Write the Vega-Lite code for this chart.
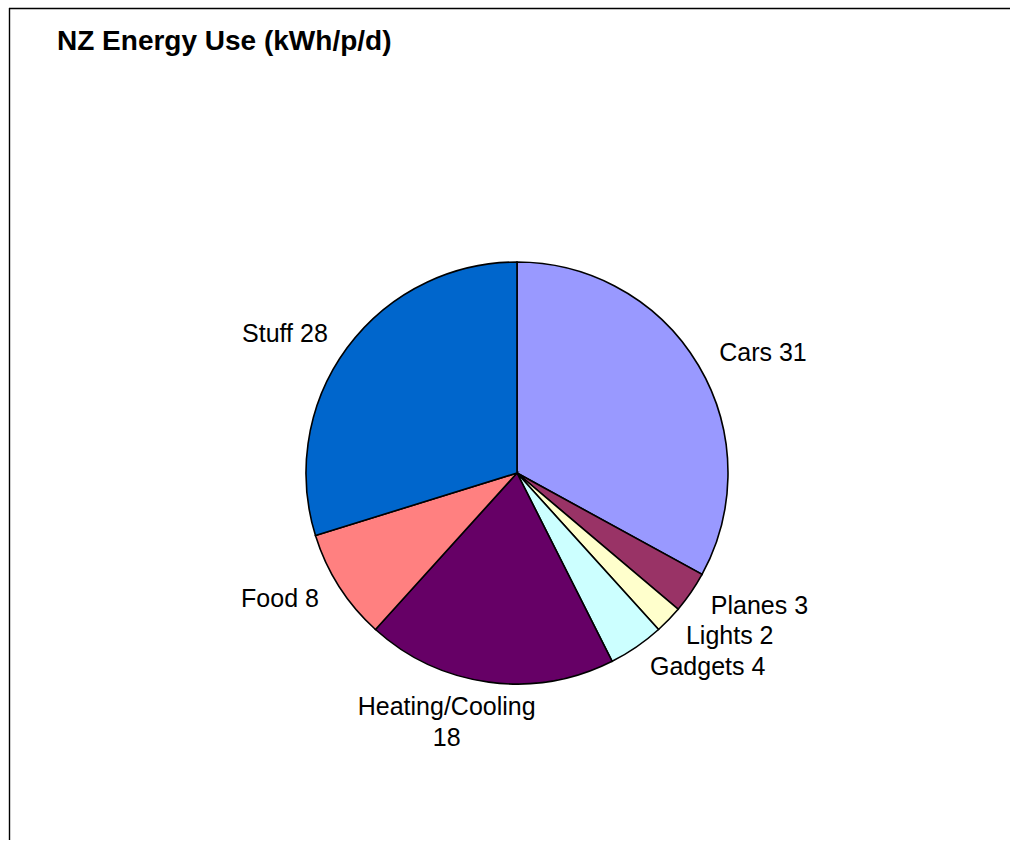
{
  "$schema": "https://vega.github.io/schema/vega-lite/v6.json",
  "width": 1016,
  "height": 930,
  "autosize": {"type": "none"},
  "padding": {"left": 9, "top": 8, "right": -13, "bottom": -96},
  "background": "white",
  "view": {"stroke": null},
  "title": {
    "text": "NZ Energy Use (kWh/p/d)",
    "anchor": "start",
    "frame": "group",
    "orient": "top",
    "offset": -71,
    "dx": 48,
    "baseline": "alphabetic",
    "font": "Liberation Sans",
    "fontSize": 28,
    "fontWeight": "bold",
    "color": "#000000"
  },
  "data": {
    "values": [
      {"category": "Cars", "value": 31, "order": 1, "label": "Cars 31"},
      {"category": "Planes", "value": 3, "order": 2, "label": "Planes 3"},
      {"category": "Lights", "value": 2, "order": 3, "label": "Lights 2"},
      {"category": "Gadgets", "value": 4, "order": 4, "label": "Gadgets 4"},
      {"category": "Heating/Cooling", "value": 18, "order": 5, "label": "Heating/Cooling\n18"},
      {"category": "Food", "value": 8, "order": 6, "label": "Food 8"},
      {"category": "Stuff", "value": 28, "order": 7, "label": "Stuff 28"}
    ]
  },
  "transform": [
    {"stack": "value", "groupby": [], "sort": [{"field": "order", "order": "ascending"}], "as": ["v0", "v1"]},
    {"calculate": "(datum.v0 + datum.v1) / 2", "as": "mid"}
  ],
  "layer": [
    {
      "transform": [{"filter": "datum.order == 1"}],
      "mark": {"type": "rule", "stroke": "#000000", "strokeWidth": 1.4, "strokeCap": "butt"},
      "encoding": {
        "y": {"value": 0.5},
        "x": {"value": 0},
        "x2": {"value": {"expr": "width - 15"}}
      }
    },
    {
      "transform": [{"filter": "datum.order == 1"}],
      "mark": {"type": "rule", "stroke": "#000000", "strokeWidth": 1.4, "strokeCap": "butt"},
      "encoding": {
        "x": {"value": 0.5},
        "y": {"value": 0},
        "y2": {"value": {"expr": "height - 98"}}
      }
    },
    {
      "mark": {"type": "arc", "outerRadius": 211, "stroke": "#000000", "strokeWidth": 1.6},
      "encoding": {
        "theta": {"field": "v0", "type": "quantitative", "stack": null, "scale": {"domain": [0, 94]}},
        "theta2": {"field": "v1"},
        "color": {
          "field": "category",
          "type": "nominal",
          "scale": {
            "domain": ["Cars", "Planes", "Lights", "Gadgets", "Heating/Cooling", "Food", "Stuff"],
            "range": ["#9999FF", "#993366", "#FFFFCC", "#CCFFFF", "#660066", "#FF8080", "#0066CC"]
          },
          "legend": null
        }
      }
    },
    {
      "mark": {
        "type": "text",
        "radius": 235,
        "font": "Liberation Sans",
        "fontSize": 25,
        "color": "#000000",
        "lineBreak": "\n",
        "lineHeight": 31,
        "align": {"expr": "datum.mid < 44 ? 'left' : (datum.mid > 54 ? 'right' : 'center')"},
        "baseline": {"expr": "(datum.mid >= 44 && datum.mid <= 54) ? 'top' : 'middle'"},
        "dx": {"expr": "(datum.mid >= 44 && datum.mid <= 54) ? -39 : 0"},
        "dy": {"expr": "(datum.mid >= 44 && datum.mid <= 54) ? -11 : 0"}
      },
      "encoding": {
        "theta": {"field": "mid", "type": "quantitative", "stack": null, "scale": {"domain": [0, 94]}},
        "text": {"field": "label", "type": "nominal"}
      }
    }
  ]
}
